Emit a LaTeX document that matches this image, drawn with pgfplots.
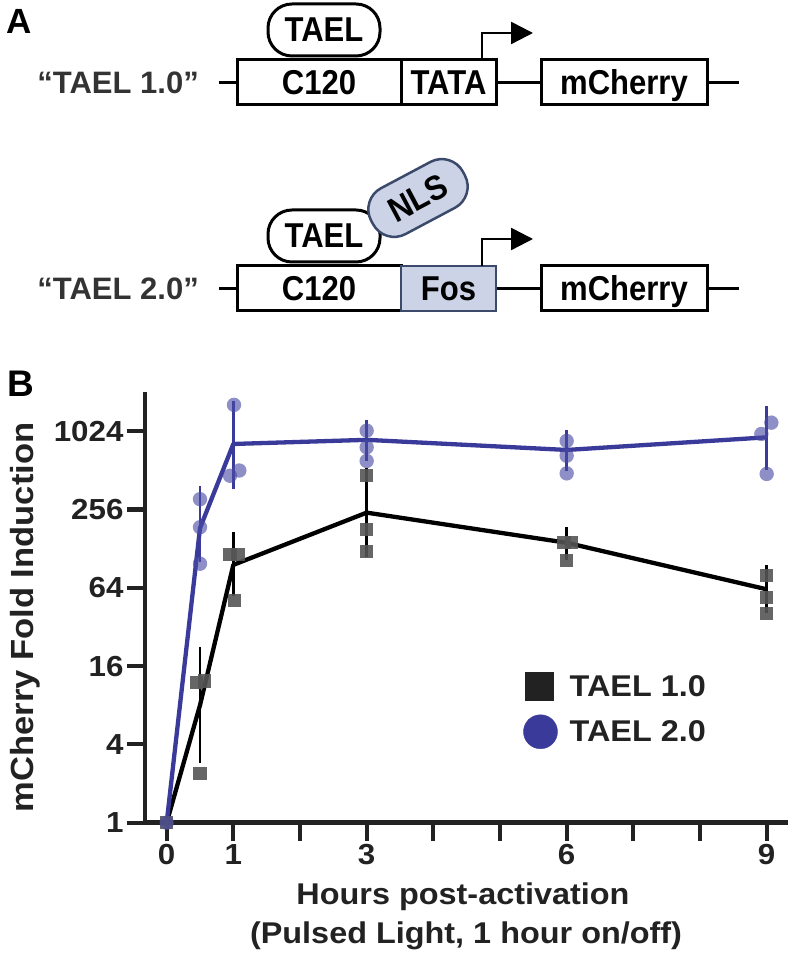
\documentclass[border=0pt]{standalone}
\usepackage{fontspec}
\setmainfont{Liberation Sans}
\newfontfamily\condf{Liberation Sans}[FakeStretch=0.9]
\newfontfamily\widef{Liberation Sans}[FakeStretch=1.08]
\usepackage{pgfplots}
\usepackage{pgfplotstable}
\pgfplotsset{compat=1.18}
\usetikzlibrary{arrows.meta}

\definecolor{txt}{HTML}{222222}
\definecolor{lbl}{HTML}{333333}
\definecolor{tblue}{HTML}{3A3A9A}
\definecolor{cdot}{HTML}{4A4AA4}
\definecolor{sqgray}{HTML}{555555}
\definecolor{fosfill}{HTML}{CCD3E6}
\definecolor{fosdraw}{HTML}{3B4A6B}
\newcommand\fsz[2]{\fontsize{#1}{#2}\selectfont\bfseries}
\newcommand\cfs{\condf\fontsize{34.5}{40}\selectfont\bfseries}
\newcommand\wfs[1]{\widef\fontsize{#1}{#1}\selectfont\bfseries}

% means and error bar extents (plus / minus)
\pgfplotstableread{
x   y    ep    em
0   1    0     0
0.5 8    12.2  4.85
1   96   60    34.5
3   242  243   121
6   142  29    26
9   62.3 24.3  17.3
}\meanA
\pgfplotstableread{
x   y    ep    em
0   1    0     0
0.5 184  166   73
1   816  766   414
3   878  258   215
6   734  222   181
9   918  529   348
}\meanB
% replicates
\pgfplotstableread{
x    y
0    1
0.45 12
0.57 12.3
0.5  2.4
0.95 116
1.07 116
1.02 51
3    464
3    180
3    121
5.96 142
6.07 142
6    103
9    79
9    54
9    40.8
}\repA
\pgfplotstableread{
x    y
0    1
0.5  307
0.5  187
0.5  98
1.01 1630
0.95 465
1.09 510
3    1033
3    770
3    604
6    861
6    663
6    485
8.92 974
9.07 1190
9    480
}\repB

\begin{document}
\begin{tikzpicture}
\path[use as bounding box] (0,0) rectangle (792pt,955pt);

% panel A: constructs (pixel coordinates, y down)
\begin{scope}[x=1pt,y=-1pt,yshift=955pt]
  \tikzset{box/.style={draw=black, line width=3pt, fill=white},
           boxtxt/.style={anchor=base, font=\cfs, text=black, inner sep=0pt},
           oval/.style={draw=black, line width=3pt, fill=white, rounded corners=24pt,
                        minimum width=112pt, minimum height=52pt, inner sep=0pt}}
  \node[anchor=base west, font=\fsz{35}{40}, inner sep=0pt] at (6,34) {A};
  % TAEL 1.0
  \draw[line width=3pt] (219,82.5) -- (237,82.5) (496,82.5) -- (541,82.5) (707,82.5) -- (739,82.5);
  \draw[box] (237,60) rectangle (401,105);
  \draw[box] (401,60) rectangle (496,105);
  \draw[box] (541,60) rectangle (707,105);
  \draw[line width=2.5pt, -{Triangle[length=22pt,width=22pt]}] (482,60) -- (482,33) -- (533,33);
  \node[oval] at (324,30) {};
  \node[boxtxt] at (324,42) {TAEL};
  \node[boxtxt] at (319,95) {C120};
  \node[boxtxt] at (448.5,95) {TATA};
  \node[boxtxt] at (624,95) {mCherry};
  \node[anchor=base east, font=\fsz{31}{37}, text=lbl, inner sep=0pt] at (199,93.5) {“TAEL 1.0”};
  % TAEL 2.0
  \draw[line width=3pt] (219,288.5) -- (237,288.5) (496,288.5) -- (541,288.5) (707,288.5) -- (739,288.5);
  \draw[box] (237,266) rectangle (401,311);
  \draw[draw=fosdraw, line width=2.5pt, fill=fosfill] (401,266) rectangle (496,311);
  \draw[box] (541,266) rectangle (707,311);
  \draw[line width=2.5pt, -{Triangle[length=22pt,width=22pt]}] (482,266) -- (482,239) -- (533,239);
  \node[oval] at (324,236) {};
  \node[boxtxt] at (324,248) {TAEL};
  \node[draw=fosdraw, line width=2.5pt, fill=fosfill, rounded corners=24pt, minimum width=104pt,
        minimum height=52pt, inner sep=0pt, rotate=28, font=\cfs] at (418,198) {NLS};
  \node[boxtxt] at (319,301) {C120};
  \node[boxtxt] at (448.5,301) {Fos};
  \node[boxtxt] at (624,301) {mCherry};
  \node[anchor=base east, font=\fsz{31}{37}, text=lbl, inner sep=0pt] at (199,299.5) {“TAEL 2.0”};
  % panel B labels
  \node[anchor=base west, font=\fsz{37}{42}, inner sep=0pt] at (7,397) {B};
  \node[anchor=base, font=\wfs{30}, text=txt, inner sep=0pt] at (463,905) {Hours post-activation};
  \node[anchor=base, font=\wfs{30}, text=txt, inner sep=0pt] at (466,943) {(Pulsed Light, 1 hour on/off)};
  \node[anchor=base, rotate=90, font=\wfs{32}, text=txt, inner sep=0pt] at (33,617.5) {mCherry Fold Induction};
\end{scope}

% panel B: time course
\begin{axis}[
  at={(145pt,132.3pt)}, anchor=south west,
  scale only axis, width=643pt, height=430.7pt,
  xmin=-0.325, xmax=9.32,
  ymode=log, log basis y=2, ymin=1, ymax=2048,
  axis x line=bottom, axis y line=left,
  axis line style={-, line width=4.7pt, txt},
  xtick={0,...,9}, xticklabels={0,1,{},3,{},{},6,{},{},9},
  ytick={1,4,16,64,256,1024}, yticklabels={1,4,16,64,256,1024},
  minor ytick={},
  tick align=outside, major tick length=18pt,
  tick style={line width=4.2pt, txt},
  /pgf/number format/assume math mode=true,
  xticklabel style={font=\wfs{29}, text=txt},
  yticklabel style={font=\wfs{29}, text=txt},
  clip=false,
  legend style={draw=none, fill=none, at={(0.588,0.35)}, anchor=north west,
    inner sep=0pt, row sep=14pt, font=\wfs{30}, text=txt,
    /tikz/every odd column/.append style={column sep=10pt}},
  legend cell align=left,
]
\addlegendimage{legend image code/.code={\fill[txt] (2pt,-14pt) rectangle (30pt,14pt);}}
\addlegendentry{TAEL 1.0}
\addlegendimage{legend image code/.code={\fill[tblue] (17pt,0pt) circle[radius=17pt];}}
\addlegendentry{TAEL 2.0}

\addplot[only marks, color=sqgray, mark=square*, mark size=6.6pt,
  mark options={fill=sqgray, draw opacity=0, fill opacity=0.9}, forget plot] table {\repA};
\addplot[only marks, color=cdot, mark=*, mark size=7.2pt,
  mark options={fill=cdot, draw opacity=0, fill opacity=0.62}, forget plot] table {\repB};
\addplot[black, line width=4.3pt, line join=round, forget plot,
  error bars/.cd, y dir=both, y explicit,
  error bar style={line width=2.5pt, black},
  error mark options={line width=2.8pt, mark size=5.5pt, black}]
  table[x=x, y=y, y error plus=ep, y error minus=em] {\meanA};
\addplot[tblue, line width=4.3pt, line join=round, forget plot,
  error bars/.cd, y dir=both, y explicit,
  error bar style={line width=2.5pt, tblue},
  error mark options={line width=2.8pt, mark size=5.5pt, tblue}]
  table[x=x, y=y, y error plus=ep, y error minus=em] {\meanB};
\end{axis}
\end{tikzpicture}
\end{document}
